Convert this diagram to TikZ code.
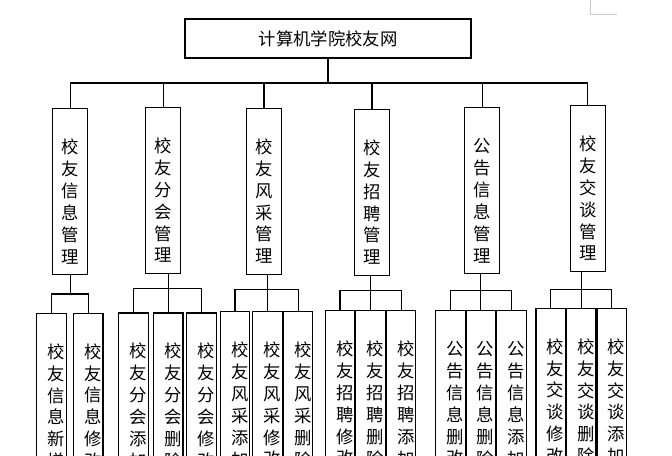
\documentclass[tikz,border=0pt]{standalone}
\usepackage{fontspec}
\setmainfont{Noto Sans CJK SC}
\usetikzlibrary{positioning}
\begin{document}
\begin{tikzpicture}[x=0.75pt,y=-0.75pt,line width=0.8pt,font=\fontsize{13pt}{16.4pt}\selectfont]
   \tikzstyle{title}=[draw,minimum width=214.5pt,minimum height=29.25pt]
   \tikzstyle{column}=[draw,inner xsep=1pt,minimum height=124.5pt,execute at begin node=\rule{0pt}{26pt}]
   \tikzstyle{module}=[column,text width=24.25pt,align=center]
   \tikzstyle{func}=[column,text width=20.1pt,align=right]
   \tikzstyle{link}=[draw]
   \useasboundingbox (0,0) rectangle (672,455);
   \clip (0,0) rectangle (672,455);
   \draw [gray!40,line width=0.5pt] (590,0) -- (590,14.7) -- (616.7,14.7);
   \node (root) [title] at (328,38.5) {计算机学院校友网};
   \node (xx) [module] at (70.3,191.7) {校\\友\\信\\息\\管\\理};
   \node (fh) [module] at (163.3,190.3) {校\\友\\分\\会\\管\\理};
   \node (fc) [module] at (264,191.2) {校\\友\\风\\采\\管\\理};
   \node (zp) [module] at (372,192.2) {校\\友\\招\\聘\\管\\理};
   \node (gg) [module] at (482.3,190.7) {公\\告\\信\\息\\管\\理};
   \node (jt) [module] at (587.8,188.3) {校\\友\\交\\谈\\管\\理};
   \node (xx1) [func] at (51.3,396.3) {校\\友\\信\\息\\新\\增};
   \node (xx2) [func,right=4.8pt of xx1] {校\\友\\信\\息\\修\\改};
   \node (fh1) [func] at (133.3,396) {校\\友\\分\\会\\添\\加};
   \node (fh2) [func,right=3.3pt of fh1] {校\\友\\分\\会\\删\\除};
   \node (fh3) [func,right=1.95pt of fh2] {校\\友\\分\\会\\修\\改};
   \node (fc1) [func] at (235,394.7) {校\\友\\风\\采\\添\\加};
   \node (fc2) [func,right=1.5pt of fc1] {校\\友\\风\\采\\修\\改};
   \node (fc3) [func,right=0pt of fc2] {校\\友\\风\\采\\删\\除};
   \node (zp1) [func] at (340,393.7) {校\\友\\招\\聘\\修\\改};
   \node (zp2) [func,right=0pt of zp1] {校\\友\\招\\聘\\删\\除};
   \node (zp3) [func,right=0pt of zp2] {校\\友\\招\\聘\\添\\加};
   \node (gg1) [func] at (450.3,393.7) {公\\告\\信\\息\\删\\改};
   \node (gg2) [func,right=0pt of gg1] {公\\告\\信\\息\\删\\除};
   \node (gg3) [func,right=0pt of gg2] {公\\告\\信\\息\\添\\加};
   \node (jt1) [func] at (550.7,391.3) {校\\友\\交\\谈\\修\\改};
   \node (jt2) [func,right=0pt of jt1] {校\\友\\交\\谈\\删\\除};
   \node (jt3) [func,right=0pt of jt2] {校\\友\\交\\谈\\添\\加};
   \coordinate (hub) at (root.south |- 0,83);
   \path [link] (root) -- (hub);
   \path [link] (xx.north) |- (hub) -| (jt.north);
   \path [link] (fh.north) -- (fh.north |- hub);
   \path [link] (fc.north) -- (fc.north |- hub);
   \path [link] (zp.north) -- (zp.north |- hub);
   \path [link] (gg.north) -- (gg.north |- hub);
   \path [link] (xx.south) -- (xx.south |- 0,294);
   \path [link] (xx1.north) |- (xx.south |- 0,294) -| (xx2.north);
   \path [link] (fh2.north |- fh.south) -- (fh2.north);
   \path [link] (fh1.north) |- (fh2.north |- 0,288.3) -| (fh3.north);
   \path [link] (fc2.north |- fc.south) -- (fc2.north);
   \path [link] (fc1.north) |- (fc2.north |- 0,289.3) -| (fc3.north);
   \path [link] (zp2.north |- zp.south) -- (zp2.north);
   \path [link] (zp1.north) |- (zp2.north |- 0,290.7) -| (zp3.north);
   \path [link] (gg2.north |- gg.south) -- (gg2.north);
   \path [link] (gg1.north) |- (gg2.north |- 0,290.7) -| (gg3.north);
   \path [link] (jt2.north |- jt.south) -- (jt2.north);
   \path [link] (jt1.north) |- (jt2.north |- 0,289.3) -| (jt3.north);
\end{tikzpicture}
\end{document}
